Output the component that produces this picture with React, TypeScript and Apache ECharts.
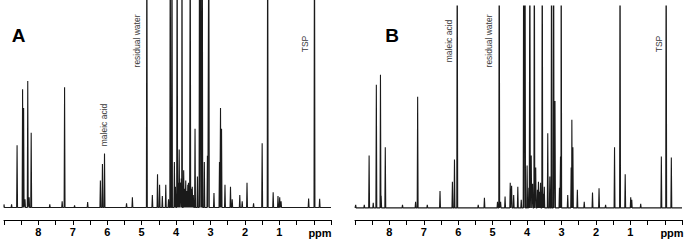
import React, { useEffect, useRef } from "react";
import * as echarts from "echarts";

// Tick labels shown on the ppm axis
const tickLabels = [1, 2, 3, 4, 5, 6, 7, 8];

// Off-scale peaks (clipped at the top of the panel)
const OFF = 150;

// Panel A: peak positions (ppm) and heights (% of panel height)
const peaksA_ppm = [
  9.0, 8.78, 8.62, 8.46, 8.43, 8.39, 8.31, 8.27, 8.21, 7.67, 7.31, 7.24, 6.95, 6.57,
  6.2, 6.14, 6.08, 5.44, 5.27, 4.85, 4.69, 4.54, 4.48, 4.4, 4.3, 4.22, 4.17, 4.12,
  4.05, 4.02, 3.97, 3.94, 3.91, 3.87, 3.85, 3.83, 3.78, 3.75, 3.72, 3.69, 3.66, 3.64,
  3.62, 3.59, 3.56, 3.53, 3.5, 3.45, 3.38, 3.32, 3.28, 3.26, 3.24, 3.18, 3.09, 3.05,
  2.9, 2.74, 2.71, 2.68, 2.58, 2.42, 2.37, 2.15, 2.08, 1.94, 1.75, 1.5, 1.34, 1.18,
  1.04, 0.99, 0.95, 0.15, -0.02, -0.17,
];
const peaksA_height = [
  1.5, 1.5, 30, 57, 48, 4, 61, 5, 36, 1.5, 3, 58, 1, 2.6,
  13, 21, 26, 2, 5, OFF, 6, 16, 11, 5.5, 11, 4, OFF, OFF,
  22, 10, OFF, 12, 28, 12, 14, OFF, 18, 9, 13, 8, 11, 12,
  8, OFF, 9, 10, 6, 38, 15, OFF, OFF, 71, OFF, 22, 25, OFF,
  7, 22, 48, 38, 11, 10, 4, 6, 3, 12, 2, 31, OFF, 7.4,
  5.5, 5, 3, 4.4, OFF, 4.2,
];

// Panel B: peak positions (ppm) and heights
const peaksB_ppm = [
  8.98, 8.73, 8.59, 8.47, 8.38, 8.26, 8.24, 8.12, 7.62, 7.24, 7.18, 6.9, 6.53, 6.17,
  6.11, 6.03, 5.42, 5.24, 4.86, 4.81, 4.77, 4.64, 4.49, 4.45, 4.39, 4.27, 4.17, 4.1,
  4.06, 4.0, 3.95, 3.92, 3.88, 3.84, 3.79, 3.75, 3.7, 3.67, 3.64, 3.61, 3.56, 3.53,
  3.5, 3.4, 3.34, 3.29, 3.23, 3.19, 3.06, 3.03, 3.01, 2.82, 2.72, 2.7, 2.67, 2.54,
  2.34, 2.1, 1.91, 1.72, 1.46, 1.3, 1.15, 0.99, 0.96, 0.7, 0.1, -0.04, -0.19,
];
const peaksB_height = [
  1.5, 1.5, 26, 2.5, 61, 66, 6, 30, 1.5, 3, 55, 1.5, 8.4, 13,
  24, OFF, 1.5, 5, 3, OFF, 3, 5.6, 12.5, 11, 6.4, 10.5, 4, OFF,
  OFF, 21, 10, OFF, 26, 12, OFF, 20, 9, 13, 8, 12.4, OFF, 7,
  10.5, 37, 15.5, OFF, OFF, 53, 10, 25.4, OFF, 6.4, 20, 43.6, 30, 9,
  3, 7.6, 9.7, 1.5, 30, OFF, 16.7, 5.3, 4, 2, 25.4, OFF, 25,
];

const AXIS_MIN = -0.5;
const AXIS_MAX = 9.0;
const HALF_WIDTH = 0.013;

function buildLine(ppm: number[], h: number[]) {
  const idx = ppm.map((_, i) => i).sort((a, b) => ppm[b] - ppm[a]);
  const pts: number[][] = [[AXIS_MAX, 0]];
  idx.forEach((i) => {
    pts.push([ppm[i] + HALF_WIDTH, 0]);
    pts.push([ppm[i], h[i]]);
    pts.push([ppm[i] - HALF_WIDTH, 0]);
  });
  pts.push([AXIS_MIN, 0]);
  return pts;
}

const FONT = "Liberation Sans, Arial, sans-serif";

function xAxisFor(gridIndex: number) {
  return {
    type: "value",
    gridIndex,
    inverse: true,
    min: AXIS_MIN,
    max: AXIS_MAX,
    interval: 0.5,
    splitLine: { show: false },
    axisLine: { show: true, onZero: false, lineStyle: { color: "#000", width: 1 } },
    axisTick: { show: true, length: 5, lineStyle: { color: "#000", width: 1 } },
    axisLabel: {
      margin: 6,
      color: "#000",
      fontSize: 11,
      fontWeight: "bold",
      fontFamily: FONT,
      showMinLabel: true,
      showMaxLabel: true,
      formatter: (v: number) => (tickLabels.includes(v) ? String(v) : ""),
    },
  };
}

function yAxisFor(gridIndex: number) {
  return { type: "value", gridIndex, min: -6, max: 100, show: false };
}

function vText(text: string, x: number, y: number) {
  return {
    type: "text",
    x,
    y,
    rotation: Math.PI / 2,
    style: {
      text,
      fill: "#3a3a3a",
      font: `8.5px ${FONT}`,
      align: "center",
      verticalAlign: "middle",
    },
  };
}

function hText(text: string, x: number, y: number, size: number) {
  return {
    type: "text",
    x,
    y,
    style: {
      text,
      fill: "#000",
      font: `bold ${size}px ${FONT}`,
      align: "center",
      verticalAlign: "middle",
    },
  };
}

export default function App() {
  const ref = useRef<HTMLDivElement>(null);
  useEffect(() => {
    if (!ref.current) return;
    const chart = echarts.init(ref.current, null, { renderer: "svg" });
    chart.setOption({
      animation: false,
      backgroundColor: "#fff",
      grid: [
        { left: 4, width: 327, top: 0, height: 220 },
        { left: 355, width: 327, top: 6, height: 214 },
      ],
      xAxis: [xAxisFor(0), xAxisFor(1)],
      yAxis: [yAxisFor(0), yAxisFor(1)],
      series: [
        {
          type: "line",
          xAxisIndex: 0,
          yAxisIndex: 0,
          data: buildLine(peaksA_ppm, peaksA_height),
          showSymbol: false,
          symbol: "none",
          clip: true,
          lineStyle: { color: "#1a1a1a", width: 1.1 },
        },
        {
          type: "line",
          xAxisIndex: 1,
          yAxisIndex: 1,
          data: buildLine(peaksB_ppm, peaksB_height),
          showSymbol: false,
          symbol: "none",
          clip: true,
          lineStyle: { color: "#1a1a1a", width: 1.1 },
        },
      ],
      graphic: [
        hText("A", 18.5, 35, 19),
        hText("B", 392, 35, 19),
        hText("ppm", 320, 233, 11),
        hText("ppm", 672, 233, 11),
        vText("residual water", 137, 41),
        vText("maleic acid", 104, 125),
        vText("TSP", 305, 44),
        vText("maleic acid", 449, 41),
        vText("residual water", 489, 41),
        vText("TSP", 659, 44),
      ],
    });
    return () => chart.dispose();
  }, []);
  return (
    <div
      ref={ref}
      style={{ position: "absolute", left: 0, top: 0, width: 685, height: 240 }}
    />
  );
}
